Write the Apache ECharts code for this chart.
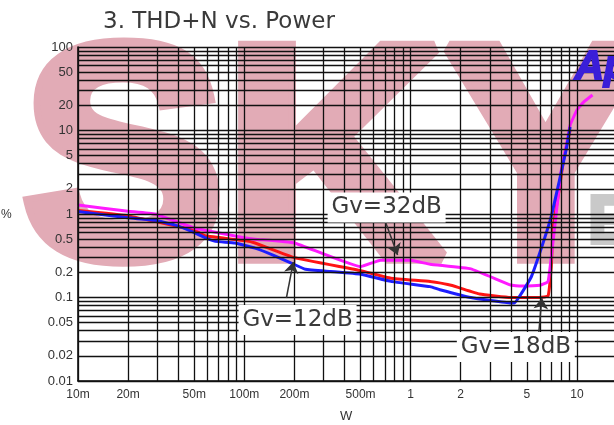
<!DOCTYPE html>
<html>
<head>
<meta charset="utf-8">
<script src="https://cdn.jsdelivr.net/npm/echarts@6/dist/echarts.min.js"></script>
<style>
  html, body { margin: 0; padding: 0; background: #fff; }
  #chart { width: 614px; height: 425px; }
</style>
</head>
<body>
<div id="chart"></div>
<script>
// THD+N (%) vs output power (W)
const gv12 = [
  [0.01, 1.07], [0.02, 0.9], [0.029, 0.84], [0.038, 0.74], [0.05, 0.6], [0.058, 0.52],
  [0.067, 0.47], [0.088, 0.45], [0.116, 0.39], [0.15, 0.32], [0.19, 0.26], [0.233, 0.218],
  [0.33, 0.205], [0.5, 0.19], [0.76, 0.156], [1.31, 0.135], [1.5, 0.124], [2.3, 0.1],
  [4.0, 0.086], [4.2, 0.086], [5.3, 0.175], [6.0, 0.35], [7.0, 0.93], [7.8, 2.4],
  [8.6, 5.8], [9.1, 11]
];
const gv18 = [
  [0.01, 1.1], [0.02, 0.95], [0.05, 0.64], [0.058, 0.55], [0.1, 0.48], [0.116, 0.45],
  [0.2, 0.3], [0.5, 0.21], [0.76, 0.17], [1.31, 0.155], [1.75, 0.14], [2.6, 0.11],
  [4.0, 0.1], [6.0, 0.1], [6.7, 0.104], [7.0, 0.23], [7.2, 0.7], [7.8, 1.9],
  [8.3, 4.4], [8.9, 8.4], [9.1, 10]
];
const gv32 = [
  [0.01, 1.28], [0.02, 1.08], [0.029, 1.0], [0.05, 0.68], [0.058, 0.64], [0.1, 0.52],
  [0.116, 0.5], [0.2, 0.45], [0.5, 0.234], [0.66, 0.28], [1.0, 0.28], [1.31, 0.25],
  [2.3, 0.22], [4.0, 0.141], [4.6, 0.137], [6.0, 0.14], [6.7, 0.155], [7.0, 0.3],
  [7.5, 1.0], [8.0, 3.1], [8.6, 6.4], [9.1, 11.6], [10, 17.6], [11, 22], [12.4, 26.6]
];

const xTickValues = [0.01, 0.02, 0.05, 0.1, 0.2, 0.5, 1, 2, 5, 10];
const xTickLabels = ['10m', '20m', '50m', '100m', '200m', '500m', '1', '2', '5', '10'];
const yTickValues = [0.01, 0.02, 0.05, 0.1, 0.2, 0.5, 1, 2, 5, 10, 20, 50, 100];
const yTickLabels = ['0.01', '0.02', '0.05', '0.1', '0.2', '0.5', '1', '2', '5', '10', '20', '50', '100'];

// visible x range (the picture is cut off a bit past 10 W)
const xMin = 0.01, xMax = 16.7;

// log grid: 1..9 in every decade
const xDecades = [0.01, 0.1, 1, 10];
const yDecades = [0.01, 0.1, 1, 10];
const steps = [1, 2, 3, 4, 5, 6, 7, 8, 9];

// annotations: label, box centre, arrow start, arrow end (data coords)
const notes = [
  { text: 'Gv=32dB', at: [0.717, 1.2], from: [0.706, 0.8], to: [0.835, 0.323] },
  { text: 'Gv=12dB', at: [0.209, 0.0538], from: [0.179, 0.0986], to: [0.197, 0.266] },
  { text: 'Gv=18dB', at: [4.29, 0.0255], from: [5.9, 0.0386], to: [6.15, 0.0986] }
];

const xGrid = [];
xDecades.forEach(d => steps.forEach(s => { if (d * s <= xMax) xGrid.push({ xAxis: +(d * s).toPrecision(3) }); }));
const yGrid = [];
yDecades.forEach(d => steps.forEach(s => yGrid.push({ yAxis: +(d * s).toPrecision(3) })));
yGrid.push({ yAxis: 100 });

const chart = echarts.init(document.getElementById('chart'));

const lineSeries = (name, data, color) => ({
  name, type: 'line', data, showSymbol: false, smooth: 0.1,
  lineStyle: { color, width: 3 }, itemStyle: { color }, z: 3, silent: true
});

// heavy watermark text (stroke thickens the glyphs)
const mark = (text, left, top, size, color, extra) => ({
  type: 'text', left, top, z: -10, silent: true,
  style: Object.assign({ text, fontFamily: 'Liberation Sans', fontWeight: 'bold', fontSize: size,
                         fill: color, stroke: color, lineWidth: 14, lineJoin: 'round' }, extra || {})
});

chart.setOption({
  animation: false,
  backgroundColor: '#fff',
  title: {
    text: '3. THD+N vs. Power',
    left: 98, top: 6,
    textStyle: { fontFamily: 'DejaVu Sans', fontSize: 23, fontWeight: 'normal', color: '#3a3a3a' }
  },
  graphic: [
    mark('SKY', 15, 14, 304, '#e2abb6'),
    mark('E', 586, 188, 68, '#c9c9c9', { lineWidth: 4 }),
    Object.assign(mark('Ap', 574, 47, 40, '#3a1ed8', { lineWidth: 2, fontStyle: 'italic' }), { z: 10 }),
    {
      type: 'text', left: 1, top: 209, silent: true,
      style: { text: '%', fontFamily: 'Liberation Sans', fontSize: 12, fill: '#333' }
    },
    {
      type: 'text', left: 340, top: 410, silent: true,
      style: { text: 'W', fontFamily: 'Liberation Sans', fontSize: 13, fill: '#333' }
    }
  ],
  grid: { left: 78, top: 47, right: 0, bottom: 44 },
  xAxis: {
    type: 'log', logBase: 10, min: xMin, max: xMax,
    axisLine: { show: true, lineStyle: { color: '#000', width: 1.5 } },
    axisTick: { show: false },
    splitLine: { show: false },
    axisLabel: {
      customValues: xTickValues,
      formatter: v => {
        const i = xTickValues.findIndex(t => Math.abs(t - v) / t < 1e-6);
        return i >= 0 ? xTickLabels[i] : '';
      },
      margin: 8, fontFamily: 'Liberation Sans', fontSize: 12, color: '#333'
    }
  },
  yAxis: {
    type: 'log', logBase: 10, min: 0.01, max: 100,
    axisLine: { show: true, lineStyle: { color: '#000', width: 1.5 } },
    axisTick: { show: false },
    splitLine: { show: false },
    axisLabel: {
      customValues: yTickValues,
      formatter: v => {
        const i = yTickValues.findIndex(t => Math.abs(t - v) / t < 1e-6);
        return i >= 0 ? yTickLabels[i] : '';
      },
      margin: 5, fontFamily: 'Liberation Sans', fontSize: 13, color: '#333'
    }
  },
  series: [
    {
      name: 'grid', type: 'line', data: [], z: 1, silent: true,
      markLine: {
        silent: true, symbol: 'none', animation: false,
        label: { show: false },
        lineStyle: { color: '#111', width: 1.3, type: 'solid' },
        data: xGrid.concat(yGrid)
      }
    },
    lineSeries('Gv=18dB', gv18, '#ff1414'),
    lineSeries('Gv=32dB', gv32, '#ff1aff'),
    lineSeries('Gv=12dB', gv12, '#1e1eff'),
    {
      name: 'notes', type: 'line', data: [], z: 4, silent: true,
      markPoint: {
        silent: true, symbol: 'rect', symbolSize: [118, 30],
        itemStyle: { color: '#fff' },
        label: { show: true, position: 'inside', fontFamily: 'DejaVu Sans', fontSize: 23, color: '#3a3a3a',
                 formatter: p => p.name },
        data: notes.map(n => ({ name: n.text, coord: n.at }))
      },
      markLine: {
        silent: true, symbol: ['none', 'arrow'], symbolSize: 11,
        label: { show: false },
        lineStyle: { color: '#333', width: 1.5, type: 'solid' },
        data: notes.map(n => [{ coord: n.from }, { coord: n.to }])
      }
    }
  ]
});
</script>
</body>
</html>
